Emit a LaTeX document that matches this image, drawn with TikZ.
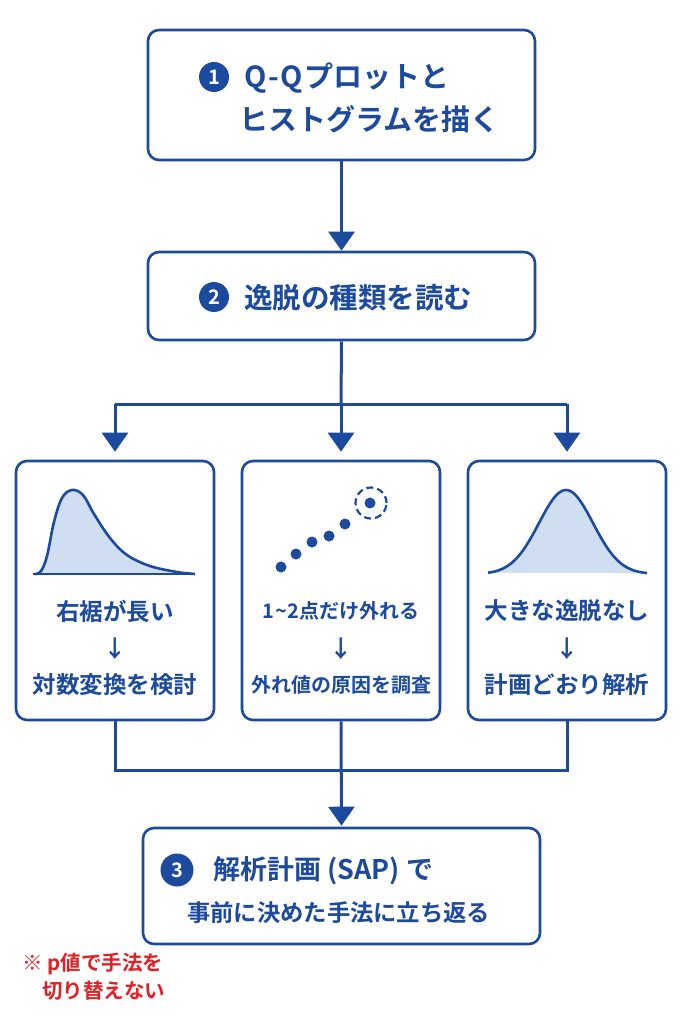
\documentclass[tikz,border=0pt]{standalone}
\usepackage{fontspec}
\setmainfont{Noto Sans CJK JP}[BoldFont={Noto Sans CJK JP Bold}]
\usetikzlibrary{arrows.meta}
\definecolor{mainblue}{RGB}{28,74,158}
\definecolor{lightfill}{RGB}{208,222,242}
\definecolor{notered}{RGB}{226,32,38}
\tikzset{
  box/.style={draw=mainblue, line width=2.6pt, rounded corners=11pt, fill=white, inner sep=0pt},
  conn/.style={draw=mainblue, line width=3pt},
  arr/.style={conn, -{Triangle[length=19pt,width=26pt]}},
  numc/.style={circle, fill=mainblue, text=white, inner sep=0pt, font=\bfseries\fontsize{20}{20}\selectfont},
  bigtxt/.style={text=mainblue, font=\bfseries\fontsize{29}{29}\selectfont, inner sep=0pt, anchor=west},
  midtxt/.style={text=mainblue, font=\bfseries\fontsize{23.5}{23.5}\selectfont, inner sep=0pt},
  smalltxt/.style={text=mainblue, font=\bfseries\fontsize{20}{20}\selectfont, inner sep=0pt},
  notetxt/.style={text=notered, font=\bfseries\fontsize{20.5}{20.5}\selectfont, inner sep=0pt, anchor=west},
  dot/.style={circle, fill=mainblue, inner sep=0pt, minimum size=11pt},
}
\begin{document}
\begin{tikzpicture}[x=1pt,y=-1pt]
\useasboundingbox (0,0) rectangle (683,1024);
\fill[white] (0,0) rectangle (683,1024);

% boxes
\node[box, minimum width=387pt, minimum height=130pt] (b1) at (341.5,95) {};
\node[box, minimum width=387pt, minimum height=88pt] (b2) at (341.5,296) {};
\node[box, minimum width=198pt, minimum height=259pt] (ba) at (115,590.5) {};
\node[box, minimum width=198pt, minimum height=259pt] (bb) at (341,590.5) {};
\node[box, minimum width=198pt, minimum height=259pt] (bc) at (567,590.5) {};
\node[box, minimum width=397pt, minimum height=116pt] (b3) at (341.5,886) {};

% box 1 text
\node[numc, minimum size=30pt] (n1) at (214,77) {1};
\node[bigtxt] (t1a) at (244,78) {Q\kern1.5pt-\kern1.5pt Q\kern2pt プロットと};
\node[bigtxt] (t1b) at (239,119) {ヒストグラムを描く};

% box 2 text
\node[numc, minimum size=30pt] (n2) at (214,297) {2};
\node[bigtxt, font=\bfseries\fontsize{28.5}{28.5}\selectfont] (t2) at (244,298) {逸脱の種類を読む};

% box 3 text
\node[numc, minimum size=33pt] (n3) at (177,870) {3};
\node[bigtxt, font=\bfseries\fontsize{27}{27}\selectfont] (t3a) at (213,871) {解析計画 (SAP) で};
\node[bigtxt, font=\bfseries\fontsize{23.3}{23.3}\selectfont] (t3b) at (187,913) {事前に決めた手法に立ち返る};

% connectors
\draw[arr] (b1.south) -- (b2.north);
\coordinate (split) at (341,404);
\coordinate (merge) at (341,770);
\draw[conn] (b2.south) -- (split);
\draw[conn] (ba.north |- split) -- (bc.north |- split);
\draw[arr, shorten >=8pt] (split) -- (bb.north);
\draw[arr, shorten >=8pt] (ba.north |- split) -- (ba.north);
\draw[arr, shorten >=8pt] (bc.north |- split) -- (bc.north);
\draw[conn] (ba.south) -- (ba.south |- merge) -- (bc.south |- merge) -- (bc.south);
\draw[arr, shorten >=1pt] (bb.south) -- (b3.north);

% left curve (right skew)
\fill[lightfill] plot[smooth, tension=0.6] coordinates {(35,574) (41,571) (47,556) (54,522) (62,498) (72,490) (83,495) (94,514) (110,538) (127,555) (150,566) (177,572) (195,574)} -- cycle;
\draw[mainblue, line width=2.6pt, line join=round] plot[smooth, tension=0.6] coordinates {(35,574) (41,571) (47,556) (54,522) (62,498) (72,490) (83,495) (94,514) (110,538) (127,555) (150,566) (177,572) (195,574)};
\draw[mainblue, line width=2.6pt] (33,574) -- (195,574);

% right curve (normal)
\fill[lightfill] plot[domain=488:647, samples=80] (\x,{574-84*exp(-((\x-566)/27)^2/2)}) -- cycle;
\draw[mainblue, line width=2.6pt, line join=round] plot[domain=488:647, samples=80] (\x,{574-84*exp(-((\x-566)/27)^2/2)});

% middle dots
\node[dot] (d1) at (281,567) {};
\node[dot] (d2) at (296,554) {};
\node[dot] (d3) at (312,542) {};
\node[dot] (d4) at (329,536) {};
\node[dot] (d5) at (345,524) {};
\node[dot] (d6) at (370,503) {};
\draw[mainblue, line width=2.2pt, dash pattern=on 7pt off 4pt] (371,503) circle (15.5pt);

% box texts
\node[midtxt] (la1) at (115,611) {右裾が長い};
\node[midtxt] (la2) at (115,649) {↓};
\node[midtxt] (la3) at (115,685) {対数変換を検討};
\node[smalltxt] (lb1) at (341,611) {1\kern1pt\textasciitilde\kern1pt 2点だけ外れる};
\node[midtxt] (lb2) at (341,649) {↓};
\node[smalltxt] (lb3) at (341,685) {外れ値の原因を調査};
\node[midtxt] (lc1) at (567,611) {大きな逸脱なし};
\node[midtxt] (lc2) at (567,649) {↓};
\node[midtxt] (lc3) at (567,685) {計画どおり解析};

% red note
\node[notetxt] (r1) at (22,964) {※ p値で手法を};
\node[notetxt] (r2) at (42,991) {切り替えない};
\end{tikzpicture}
\end{document}
